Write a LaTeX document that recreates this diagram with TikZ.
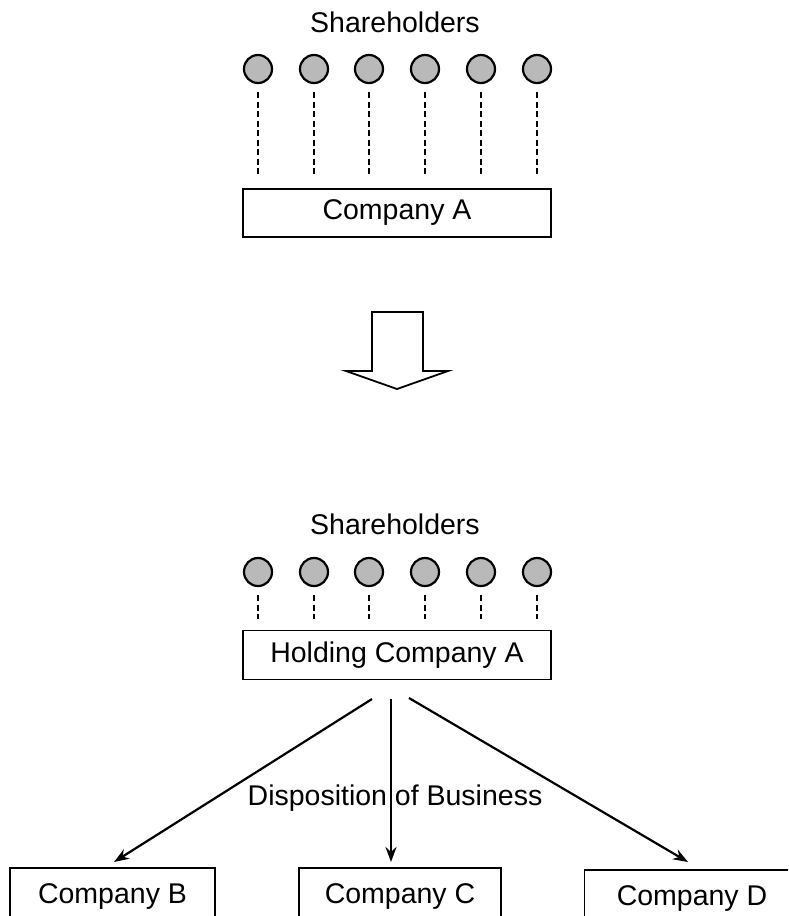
\documentclass[tikz,border=0pt]{standalone}
\usepackage{fontspec}
\setmainfont{Liberation Sans}
\usetikzlibrary{arrows.meta}
\begin{document}
\begin{tikzpicture}[x=1pt,y=-1pt,
  holder/.style={circle,draw=black,line width=2.2pt,fill=gray!55,minimum size=28pt,inner sep=0pt},
  dashline/.style={draw=black,line width=1.8pt,dash pattern=on 6pt off 3.5pt,shorten <=8pt,shorten >=11pt},
  cobox/.style={draw=black,line width=1.5pt,inner sep=0pt,font=\fontsize{28.5}{34}\selectfont},
  lbl/.style={inner sep=0pt,font=\fontsize{28.5}{34}\selectfont},
  link/.style={draw=black,line width=2.2pt,-{Stealth[length=15pt,width=11pt]}}]
\clip (0,0) rectangle (788,916);
% top part
\node[lbl] (sh1) at (395,22) {Shareholders};
\foreach \i/\x in {1/258,2/314,3/369,4/425,5/481,6/537}{
  \node[holder] (a\i) at (\x,69) {};
}
\node[cobox,minimum width=308pt,minimum height=48pt] (ca) at (397,213) {Company A};
\foreach \i in {1,...,6}{
  \draw[dashline] (a\i.south) -- (a\i.south |- ca.north);
}
% block arrow
\draw[line width=1.8pt,line join=miter] (372,312) -- (423,312) -- (423,371) -- (448,371) -- (397,389) -- (346,371) -- (372,371) -- cycle;
% bottom part
\node[lbl] (sh2) at (395,524) {Shareholders};
\foreach \i/\x in {1/258,2/314,3/369,4/425,5/481,6/537}{
  \node[holder] (b\i) at (\x,572) {};
}
\node[cobox,minimum width=308pt,minimum height=49pt] (ha) at (397,655) {Holding Company A};
\foreach \i in {1,...,6}{
  \draw[dashline] (b\i.south) -- (b\i.south |- ha.north);
}
\node[cobox,minimum width=205pt,minimum height=56pt] (cb) at (112.5,896) {Company B};
\node[cobox,minimum width=202pt,minimum height=56pt] (cc) at (400,896) {Company C};
\node[cobox,minimum width=215pt,minimum height=56pt] (cd) at (692,898) {Company D};
\node[lbl] (disp) at (395,798) {Disposition of Business};
\coordinate (s1) at (372,699);
\coordinate (s2) at (391,699);
\coordinate (s3) at (409,698);
\coordinate (e1) at (114,862);
\coordinate (e2) at (391,862);
\coordinate (e3) at (688,862);
\draw[link] (s1) -- (e1);
\draw[link] (s2) -- (e2);
\draw[link] (s3) -- (e3);
\end{tikzpicture}
\end{document}
